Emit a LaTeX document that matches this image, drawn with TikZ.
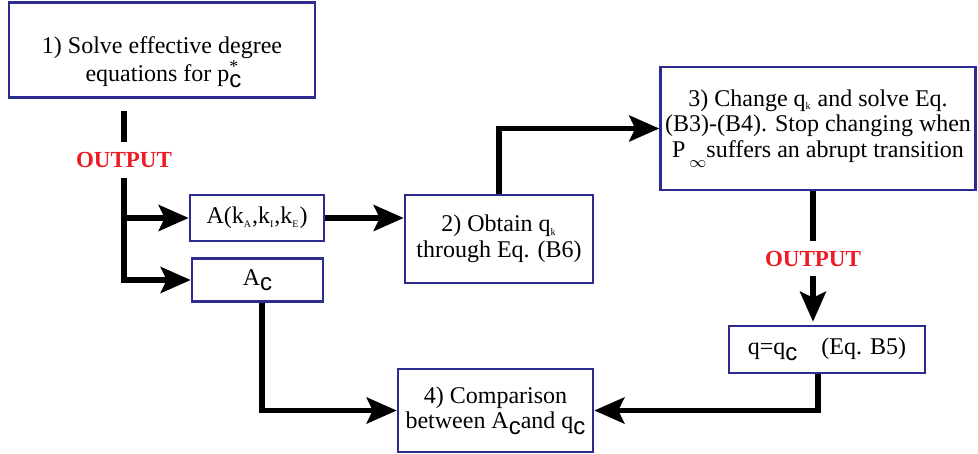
\documentclass[tikz,border=0pt]{standalone}
\usepackage{fontspec}
\setmainfont{Liberation Serif}
\setsansfont{Liberation Sans}
\usetikzlibrary{arrows.meta}
\definecolor{boxblue}{RGB}{43,43,145}
\definecolor{outred}{RGB}{237,28,36}
\newcommand{\csub}{\raisebox{-0.5ex}{\sffamily c}}
\newcommand{\ksub}[1]{\textsubscript{\tiny #1}}
\newcommand{\pstar}{\rlap{\raisebox{-0.55ex}{\sffamily c}}\raisebox{0.8ex}{\small *}}
\begin{document}
\begin{tikzpicture}[x=0.5pt,y=-0.5pt,
    box/.style={draw=boxblue,line width=1.3pt,align=center,inner sep=2pt,
      font=\fontsize{12}{12.8}\selectfont},
    outlabel/.style={text=outred,font=\fontsize{11.5}{13}\selectfont\bfseries,
      inner sep=0pt,outer sep=5pt},
    link/.style={line width=2.6pt,-{Stealth[length=15pt,width=13pt,inset=3pt]}}]
  \useasboundingbox (0,0) rectangle (978,454);
  \node[box,minimum width=153pt,minimum height=47.5pt] (solve) at (162,50)
    {\rule{0pt}{21pt}1) Solve effective degree\\equations for p\pstar};
  \node[outlabel] (out1) at (124,160) {OUTPUT};
  \node[box,minimum width=67pt,minimum height=23pt] (avec) at (257,218)
    {A(k\ksub{A},k\ksub{I},k\ksub{E})};
  \node[box,minimum width=65.5pt,minimum height=21.5pt] (acrit) at (257.5,280)
    {A\csub};
  \node[box,minimum width=94pt,minimum height=44pt] (obtain) at (499,239)
    {2) Obtain q\ksub{k}\\through Eq. (B6)};
  \node[box,minimum width=157.5pt,minimum height=61.5pt] (change) at (818,128.5)
    {3) Change q\ksub{k} and solve Eq.\\(B3)-(B4). Stop changing when\\
     P\,\raisebox{-0.9ex}{$\scriptstyle\infty$}suffers an abrupt transition};
  \node[outlabel] (out2) at (813,258.5) {OUTPUT};
  \node[box,minimum width=98pt,minimum height=23.5pt] (crit) at (827,349.5)
    {q=q\csub\quad (Eq. B5)};
  \node[box,minimum width=97.5pt,minimum height=41.5pt] (compare) at (495.5,410.5)
    {4) Comparison\\between A\csub and q\csub};
  \draw[link,-,shorten <=6pt] (solve.south -| out1) -- (out1.north);
  \draw[link] (out1.south) |- (avec.west);
  \draw[link] (out1.south) |- (acrit.west);
  \draw[link] (avec.east) -- (avec.east -| obtain.west);
  \draw[link] (obtain.north) |- (change.west);
  \draw[link,-] (change.south -| out2) -- (out2.north);
  \draw[link,shorten >=1.5pt] (out2.south) -- (crit.north -| out2);
  \draw[link] ([xshift=-4.5pt]crit.south) |- (compare.east);
  \draw[link] ([xshift=2.25pt]acrit.south) |- (compare.west);
\end{tikzpicture}
\end{document}
